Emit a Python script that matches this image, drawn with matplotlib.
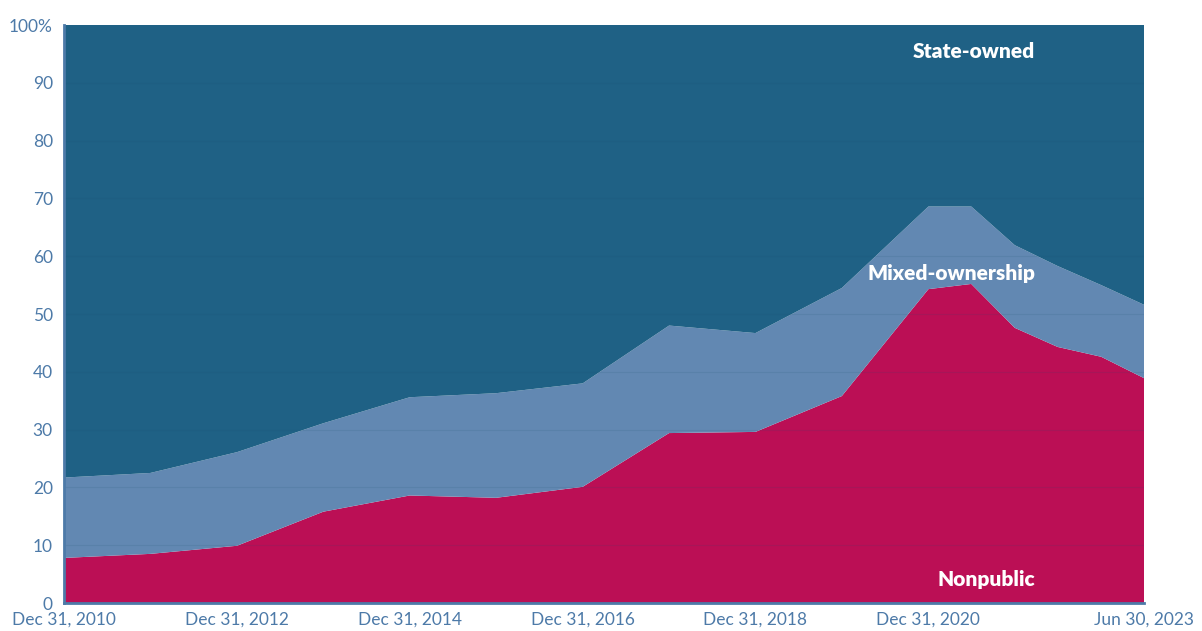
import numpy as np
import pandas as pd
import matplotlib
matplotlib.use("Agg")
import matplotlib.pyplot as plt

plt.rcParams['font.family'] = ['Lato', 'DejaVu Sans']

# Share of holdings by ownership type (percent)
dates = pd.to_datetime([
    "2010-12-31", "2011-12-31", "2012-12-31", "2013-12-31", "2014-12-31",
    "2015-12-31", "2016-12-31", "2017-12-31", "2018-12-31", "2019-12-31",
    "2020-12-31", "2021-06-30", "2021-12-31", "2022-06-30", "2022-12-31",
    "2023-06-30",
])
nonpublic = np.array([7.8, 8.5, 9.9, 15.8, 18.6, 18.2, 20.1, 29.4, 29.6, 35.8,
                      54.3, 55.2, 47.6, 44.3, 42.6, 38.9])
nonpublic_plus_mixed = np.array([21.7, 22.5, 26.1, 31.1, 35.6, 36.3, 38.0, 48.0,
                                 46.7, 54.5, 68.6, 68.6, 61.9, 58.3, 55.0, 51.6])
mixed = nonpublic_plus_mixed - nonpublic
state_owned = 100 - nonpublic_plus_mixed

tick_dates = pd.to_datetime(["2010-12-31", "2012-12-31", "2014-12-31", "2016-12-31",
                             "2018-12-31", "2020-12-31", "2023-06-30"])
tick_labels = ["Dec 31, 2010", "Dec 31, 2012", "Dec 31, 2014", "Dec 31, 2016",
               "Dec 31, 2018", "Dec 31, 2020", "Jun 30, 2023"]

c_nonpublic = "#bb0f55"
c_mixed = "#6288b2"
c_state = "#1f6185"
c_axis = "#4d7aa8"

fig = plt.figure(figsize=(12.02, 6.31), dpi=100)
ax = fig.add_axes([64 / 1202, 28 / 631, 1080 / 1202, 578 / 631])

ax.stackplot(dates, nonpublic, mixed, state_owned,
             colors=[c_nonpublic, c_mixed, c_state], linewidth=0)

ax.set_xlim(dates[0], dates[-1])
ax.set_ylim(0, 100)

for y in range(10, 100, 10):
    ax.axhline(y, color="#1a4f70", lw=0.8, alpha=0.12, zorder=3)

ax.set_yticks(range(0, 101, 10))
ax.set_yticklabels([str(v) for v in range(0, 100, 10)] + ["100%"])
ax.set_xticks(tick_dates)
ax.set_xticklabels(tick_labels)
ax.tick_params(axis="both", length=0, colors=c_axis, labelsize=12.5)
ax.tick_params(axis="y", pad=8)
ax.tick_params(axis="x", pad=6)

for side in ("top", "right"):
    ax.spines[side].set_visible(False)
for side in ("left", "bottom"):
    ax.spines[side].set_color(c_axis)
    ax.spines[side].set_linewidth(2)
    ax.spines[side].set_zorder(5)

label_style = dict(color="white", fontweight="heavy", fontsize=15,
                   ha="center", va="center", zorder=6)
ax.text(pd.Timestamp("2021-07-12"), 95.5, "State-owned", **label_style)
ax.text(pd.Timestamp("2021-04-08"), 57, "Mixed-ownership", **label_style)
ax.text(pd.Timestamp("2021-09-01"), 4, "Nonpublic", **label_style)

fig.savefig("out.png", dpi=100)
